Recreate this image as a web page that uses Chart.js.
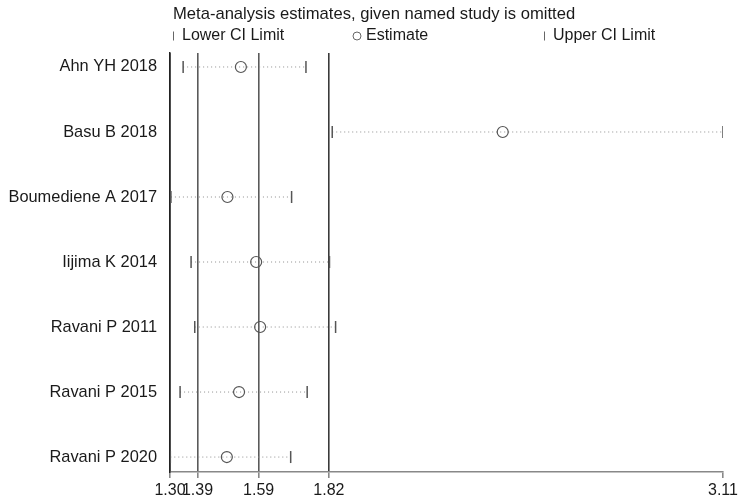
<!DOCTYPE html>
<html>
<head>
<meta charset="utf-8">
<script src="https://cdn.jsdelivr.net/npm/chart.js@4"></script>
<style>
  body { margin: 0; background: #fff; }
  #wrap { width: 744px; height: 504px; }
</style>
</head>
<body>
<div id="wrap"><canvas id="chart"></canvas></div>
<script>
// Study omitted on each row
const studies = [
  "Ahn YH 2018",
  "Basu B 2018",
  "Boumediene A 2017",
  "Iijima K 2014",
  "Ravani P 2011",
  "Ravani P 2015",
  "Ravani P 2020",
];
// Pooled estimate and CI when that study is left out
const lowerCI = [1.343, 1.831, 1.303, 1.369, 1.381, 1.333, 1.301];
const estimate = [1.532, 2.389, 1.488, 1.582, 1.595, 1.526, 1.486];
const upperCI = [1.745, 3.11, 1.698, 1.822, 1.842, 1.749, 1.695];
// Overall lower CI / estimate / upper CI reference lines
const overall = [1.39, 1.59, 1.82];
// Tick values on the x axis
const xTicks = [1.3, 1.39, 1.59, 1.82, 3.11];

const FONT = "'Liberation Sans', Arial, sans-serif";
const rowY = (i) => i + 1;

// Dotted line from lower to upper limit, one dataset per study
const ciDatasets = studies.map((name, i) => ({
  type: "line",
  label: name,
  data: [
    { x: lowerCI[i], y: rowY(i) },
    { x: upperCI[i], y: rowY(i) },
  ],
  borderColor: "#8f8f8f",
  borderWidth: 1,
  borderDash: [1, 3],
  pointRadius: 0,
  order: 3,
}));

const capStyle = {
  type: "scatter",
  pointStyle: "line",
  rotation: 90,
  pointRadius: 6,
  pointBorderColor: "#555",
  pointBorderWidth: 1.5,
  order: 2,
};

// Header text and legend keys above the plot
const headerPlugin = {
  id: "header",
  afterDraw(chart) {
    const ctx = chart.ctx;
    const left = chart.chartArea.left;
    ctx.save();
    ctx.fillStyle = "#1a1a1a";
    ctx.textBaseline = "middle";
    ctx.textAlign = "left";
    ctx.font = "16.6px " + FONT;
    ctx.fillText("Meta-analysis estimates, given named study is omitted", left + 3, 14);

    ctx.font = "16px " + FONT;
    const y = 36;
    ctx.strokeStyle = "#666";
    ctx.lineWidth = 1;
    ctx.beginPath();
    ctx.moveTo(left + 3.5, y - 4.5);
    ctx.lineTo(left + 3.5, y + 4.5);
    ctx.stroke();
    ctx.fillText("Lower CI Limit", left + 12, y);

    ctx.beginPath();
    ctx.arc(left + 187, y, 4, 0, Math.PI * 2);
    ctx.stroke();
    ctx.fillText("Estimate", left + 196, y);

    ctx.beginPath();
    ctx.moveTo(left + 374.5, y - 4.5);
    ctx.lineTo(left + 374.5, y + 4.5);
    ctx.stroke();
    ctx.fillText("Upper CI Limit", left + 383, y);
    ctx.restore();
  },
};

new Chart(document.getElementById("chart"), {
  type: "scatter",
  data: {
    datasets: [
      ...ciDatasets,
      {
        ...capStyle,
        label: "Lower CI Limit",
        data: lowerCI.map((v, i) => ({ x: v, y: rowY(i) })),
      },
      {
        ...capStyle,
        label: "Upper CI Limit",
        data: upperCI.map((v, i) => ({ x: v, y: rowY(i) })),
      },
      {
        type: "scatter",
        label: "Estimate",
        data: estimate.map((v, i) => ({ x: v, y: rowY(i) })),
        pointStyle: "circle",
        pointRadius: 5.5,
        pointBackgroundColor: "rgba(255,255,255,0)",
        pointBorderColor: "#555",
        pointBorderWidth: 1.2,
        order: 1,
      },
    ],
  },
  options: {
    responsive: true,
    maintainAspectRatio: false,
    animation: false,
    layout: { padding: { top: 53, right: 21, left: 0, bottom: 0 } },
    plugins: {
      legend: { display: false },
      tooltip: { enabled: false },
    },
    scales: {
      x: {
        type: "linear",
        min: 1.3,
        max: 3.11,
        afterBuildTicks: (scale) => {
          scale.ticks = xTicks.map((v) => ({ value: v }));
        },
        afterFit: (scale) => {
          scale.height = 32;
        },
        ticks: {
          autoSkip: false,
          maxRotation: 0,
          padding: 3,
          color: "#1a1a1a",
          font: { size: 16, family: FONT },
          callback: (v) => Number(v).toFixed(2),
        },
        grid: {
          drawOnChartArea: true,
          tickLength: 6,
          lineWidth: 1.6,
          tickColor: "#888",
          color: (c) => {
            const v = c.tick ? c.tick.value : null;
            if (overall.includes(v)) return v === 1.82 ? "#3a3a3a" : "#5a5a5a";
            if (v === 1.3) return "#222";
            return "rgba(0,0,0,0)";
          },
        },
        border: { display: true, color: "#888", width: 1.5 },
      },
      y: {
        type: "linear",
        reverse: true,
        min: 0.785,
        max: 7.23,
        afterBuildTicks: (scale) => {
          scale.ticks = studies.map((s, i) => ({ value: rowY(i) }));
        },
        afterFit: (scale) => {
          scale.width = 170;
        },
        ticks: {
          padding: 13,
          color: "#1a1a1a",
          font: { size: 16.4, family: FONT },
          callback: (v) => studies[Math.round(v) - 1] || "",
        },
        grid: { display: false, drawTicks: false },
        border: { display: true, color: "#222", width: 1.5 },
      },
    },
  },
  plugins: [headerPlugin],
});
</script>
</body>
</html>
